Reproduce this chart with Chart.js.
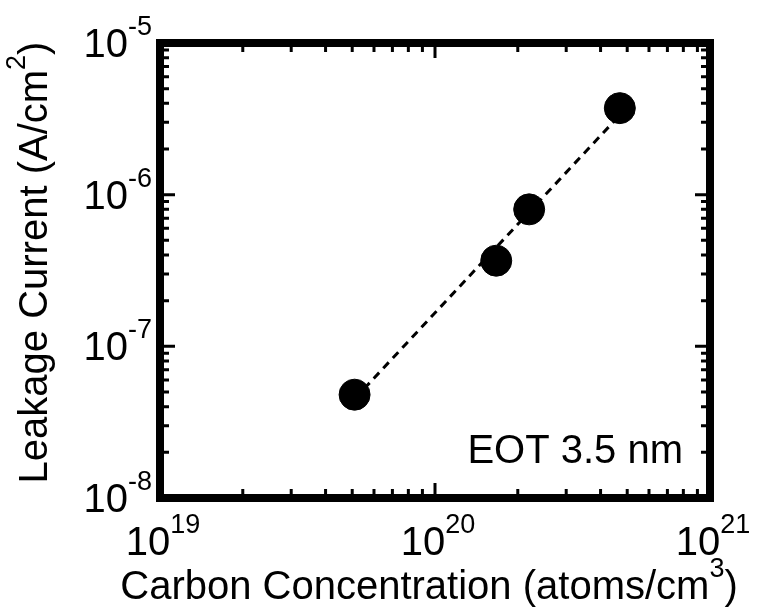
<!DOCTYPE html>
<html>
<head>
<meta charset="utf-8">
<script src="https://cdn.jsdelivr.net/npm/chart.js@4.4.1/dist/chart.umd.min.js"></script>
<style>
	body { margin: 0; background: #fff; }
	#wrap { width: 769px; height: 609px; }
</style>
</head>
<body>
<div id="wrap"><canvas id="leakChart" width="769" height="609"></canvas></div>
<script>
// measured samples
const carbonConc = [5.1e19, 1.67e20, 2.2e20, 4.7e20];
const leakage = [4.8e-8, 3.67e-7, 8.0e-7, 3.72e-6];
// fitted trend, end points only
const fitConc = [5.1e19, 4.7e20];
const fitLeakage = [4.5e-8, 3.35e-6];
// decade tick labels (exponents of ten)
const xDecades = [19, 20, 21];
const yDecades = [-8, -7, -6, -5];
const eotLabel = 'EOT 3.5 nm';

const FONT = '"Liberation Sans", Arial, sans-serif';

function toPoints(xs, ys){
	let pts = [];
	for(let i = 0; i < xs.length; i++){
		pts.push({x: xs[i], y: ys[i]});
	}
	return pts;
}

// draws text pieces in a row, pieces flagged sup are smaller and raised
function drawRich(ctx, pieces, x, y, align, size){
	const supSize = Math.round(size * 0.68);
	let widths = pieces.map(p => {
		ctx.font = (p.sup ? supSize : size) + 'px ' + FONT;
		return ctx.measureText(p.text).width;
	});
	let total = widths.reduce((a, b) => a + b, 0);
	let cx = x;
	if(align === 'center') cx = x - total / 2;
	if(align === 'right') cx = x - total;
	ctx.textAlign = 'left';
	ctx.textBaseline = 'alphabetic';
	pieces.forEach((p, i) => {
		ctx.font = (p.sup ? supSize : size) + 'px ' + FONT;
		ctx.fillText(p.text, cx, p.sup ? y - size * 0.55 : y);
		cx += widths[i];
	});
}

function powLabel(e){
	return [{text: '10'}, {text: String(e), sup: true}];
}

// box frame with inward ticks on all four sides, plus labels
const framePlugin = {
	id: 'frame',
	afterDraw(chart){
		const ctx = chart.ctx;
		const xs = chart.scales.x;
		const ys = chart.scales.y;
		const a = chart.chartArea;
		const minorLen = 9, majorLen = 15;
		ctx.save();
		ctx.fillStyle = '#000';
		ctx.strokeStyle = '#000';

		ctx.lineWidth = 3;
		ctx.beginPath();
		for(let i = 0; i < xDecades.length - 1; i++){
			for(let m = 1; m < 10; m++){
				let px = xs.getPixelForValue(m * Math.pow(10, xDecades[i]));
				let len = m === 1 ? majorLen : minorLen;
				if(m === 1 && i === 0) continue;
				ctx.moveTo(px, a.bottom); ctx.lineTo(px, a.bottom - len);
				ctx.moveTo(px, a.top); ctx.lineTo(px, a.top + len);
			}
		}
		for(let i = 0; i < yDecades.length - 1; i++){
			for(let m = 1; m < 10; m++){
				let py = ys.getPixelForValue(m * Math.pow(10, yDecades[i]));
				let len = m === 1 ? majorLen : minorLen;
				if(m === 1 && i === 0) continue;
				ctx.moveTo(a.left, py); ctx.lineTo(a.left + len, py);
				ctx.moveTo(a.right, py); ctx.lineTo(a.right - len, py);
			}
		}
		ctx.stroke();

		ctx.lineWidth = 8;
		ctx.strokeRect(a.left, a.top, a.right - a.left, a.bottom - a.top);

		xDecades.forEach(e => {
			let px = xs.getPixelForValue(Math.pow(10, e));
			drawRich(ctx, powLabel(e), px + 3, 555, 'center', 40);
		});
		yDecades.forEach(e => {
			let py = ys.getPixelForValue(Math.pow(10, e));
			drawRich(ctx, powLabel(e), 152, py + 14, 'right', 40);
		});

		drawRich(ctx, [
			{text: 'Carbon Concentration (atoms/cm'},
			{text: '3', sup: true},
			{text: ')'}
		], 429, 599, 'center', 40);

		ctx.save();
		ctx.translate(47, (a.top + a.bottom) / 2 - 8);
		ctx.rotate(-Math.PI / 2);
		drawRich(ctx, [
			{text: 'Leakage Current (A/cm'},
			{text: '2', sup: true},
			{text: ')'}
		], 0, 0, 'center', 40);
		ctx.restore();

		ctx.font = '40px ' + FONT;
		ctx.textAlign = 'right';
		ctx.textBaseline = 'alphabetic';
		ctx.fillText(eotLabel, 683, 463);
		ctx.restore();
	}
};

function leakChart(id){
	const data = {
		datasets: [{
			type: 'line',
			data: toPoints(fitConc, fitLeakage),
			borderColor: '#000',
			borderWidth: 3,
			borderDash: [8, 6],
			pointRadius: 0,
			fill: false,
			order: 2
		}, {
			data: toPoints(carbonConc, leakage),
			backgroundColor: '#000',
			borderColor: '#000',
			pointRadius: 15.5,
			pointHoverRadius: 15.5,
			clip: false,
			order: 1
		}]
	};
	const config = {
		type: 'scatter',
		data: data,
		options: {
			responsive: false,
			animation: false,
			events: [],
			layout: {
				padding: {left: 160, right: 59, top: 43, bottom: 111}
			},
			plugins: {
				legend: {display: false},
				tooltip: {enabled: false}
			},
			scales: {
				x: {type: 'logarithmic', min: 1e19, max: 1e21, display: false},
				y: {type: 'logarithmic', min: 1e-8, max: 1e-5, display: false}
			}
		},
		plugins: [framePlugin]
	};
	let ctx = document.getElementById(id).getContext('2d');
	new Chart(ctx, config);
}

leakChart('leakChart');
</script>
</body>
</html>
